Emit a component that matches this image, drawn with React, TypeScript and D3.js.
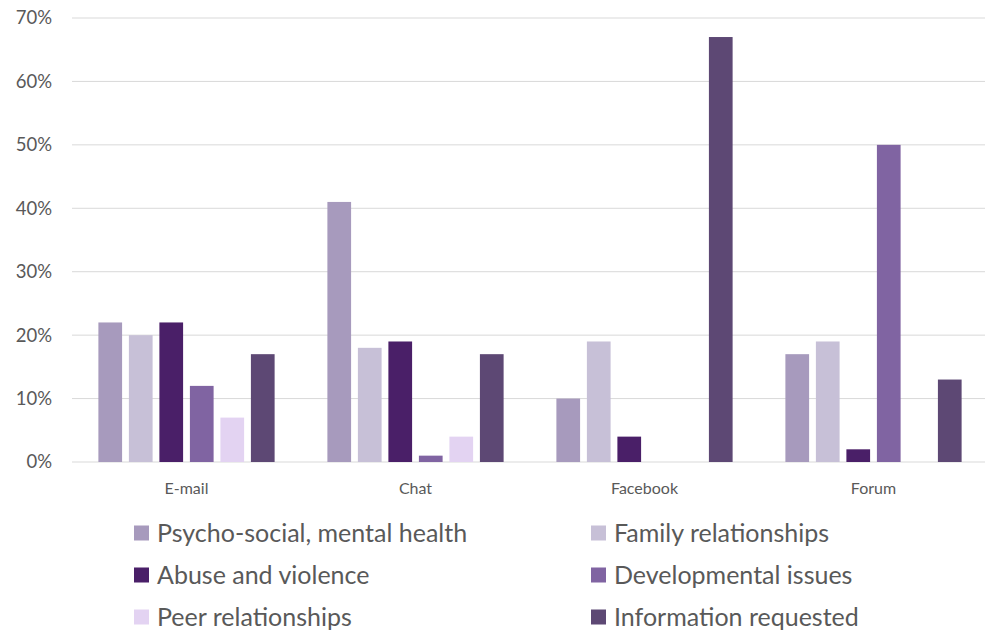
import React from "react";
import * as d3 from "d3";

const categories = ["E-mail", "Chat", "Facebook", "Forum"];
const seriesNames = [
  "Psycho-social, mental health",
  "Family relationships",
  "Abuse and violence",
  "Developmental issues",
  "Peer relationships",
  "Information requested",
];
const psychoSocial = [22, 41, 10, 17];
const family = [20, 18, 19, 19];
const abuse = [22, 19, 4, 2];
const developmental = [12, 1, 0, 50];
const peer = [7, 4, 0, 0];
const information = [17, 17, 67, 13];
const seriesValues = [psychoSocial, family, abuse, developmental, peer, information];
const colors = ["#a79abd", "#c7c0d7", "#4a1f68", "#8064a2", "#e3d3f2", "#5d4874"];
const yTicks = [0, 10, 20, 30, 40, 50, 60, 70];

export default function App() {
  const W = 992;
  const H = 630;
  const left = 72;
  const right = 988;
  const top = 18;
  const bottom = 462;

  const x0 = d3.scaleBand<string>().domain(categories).range([left, right]).paddingInner(0).paddingOuter(0);
  const x1 = d3
    .scaleBand<string>()
    .domain(seriesNames)
    .range([0, x0.bandwidth()])
    .paddingInner(0.223)
    .paddingOuter(0.865);
  const y = d3.scaleLinear().domain([0, 70]).range([bottom, top]);

  const font = "Lato, 'Open Sans', sans-serif";
  const textColor = "#595959";

  const legendRows = [533, 575, 617];
  const legendCols = [134, 591];

  return (
    <svg
      width={W}
      height={H}
      style={{ position: "absolute", left: 0, top: 0, background: "#fff" }}
      fontFamily={font}
    >
      {yTicks.map((t) => (
        <g key={t}>
          <line x1={left} x2={right - 3} y1={y(t)} y2={y(t)} stroke="#d9d9d9" strokeWidth={1} />
          <text x={52} y={y(t)} dy="0.35em" textAnchor="end" fontSize={18.5} fill={textColor}>
            {t}%
          </text>
        </g>
      ))}
      {categories.map((c, ci) => (
        <g key={c} transform={`translate(${x0(c)},0)`}>
          {seriesNames.map((s, si) => {
            const v = seriesValues[si][ci];
            if (v <= 0) return null;
            return (
              <rect
                key={s}
                x={x1(s)}
                y={y(v)}
                width={x1.bandwidth()}
                height={y(0) - y(v)}
                fill={colors[si]}
              />
            );
          })}
          <text
            x={x0.bandwidth() / 2}
            y={488}
            dy="0.35em"
            textAnchor="middle"
            fontSize={16}
            fill={textColor}
          >
            {c}
          </text>
        </g>
      ))}
      {seriesNames.map((s, i) => {
        const col = i % 2;
        const row = Math.floor(i / 2);
        const lx = legendCols[col];
        const ly = legendRows[row];
        return (
          <g key={s}>
            <rect x={lx} y={ly - 7.5} width={15} height={15} fill={colors[i]} />
            <text x={lx + 23} y={ly} dy="0.35em" fontSize={25} fill={textColor}>
              {s}
            </text>
          </g>
        );
      })}
    </svg>
  );
}
